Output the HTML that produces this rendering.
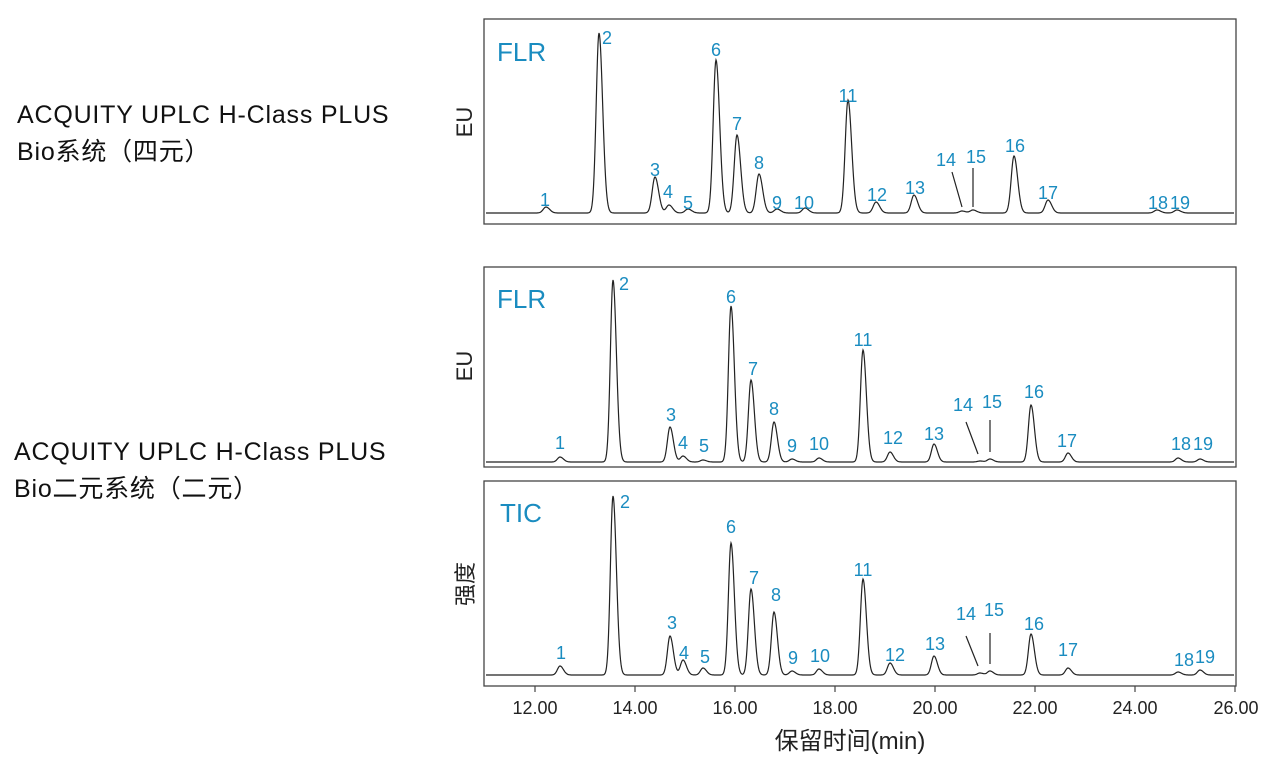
<!DOCTYPE html>
<html><head><meta charset="utf-8"><style>
body{margin:0;background:#fff;width:1280px;height:763px;overflow:hidden;font-family:"Liberation Sans","Noto Sans CJK SC",sans-serif}
.lt{position:absolute;left:17px;font-size:25px;letter-spacing:0.8px;color:#111;line-height:37px;white-space:nowrap}
</style></head><body>
<div class="lt" style="top:97px">ACQUITY UPLC H-Class PLUS<br>Bio系统（四元）</div>
<div class="lt" style="left:14px;top:434px">ACQUITY UPLC H-Class PLUS<br>Bio二元系统（二元）</div>
<svg width="1280" height="763" style="position:absolute;left:0;top:0" font-family="Liberation Sans, Noto Sans CJK SC, sans-serif">
<g fill="none" stroke="#444" stroke-width="1.3">
<rect x="484" y="19" width="752" height="205"/>
<rect x="484" y="267" width="752" height="200"/>
<rect x="484" y="481" width="752" height="205"/>
</g>
<g stroke="#222" stroke-width="1.2" fill="none">
<path id="p1"/><path id="p2"/><path id="p3"/>
<line x1="952" y1="172" x2="962" y2="207"/><line x1="973" y1="168" x2="973" y2="207"/>
<line x1="966" y1="422" x2="978" y2="454"/><line x1="990" y1="420" x2="990" y2="452"/>
<line x1="966" y1="636" x2="978" y2="666"/><line x1="990" y1="633" x2="990" y2="664"/>
</g>
<g stroke="#444" stroke-width="1.2">
<line x1="535" y1="686" x2="535" y2="692"/><line x1="635" y1="686" x2="635" y2="692"/><line x1="735" y1="686" x2="735" y2="692"/><line x1="835" y1="686" x2="835" y2="692"/><line x1="935" y1="686" x2="935" y2="692"/><line x1="1035" y1="686" x2="1035" y2="692"/><line x1="1135" y1="686" x2="1135" y2="692"/><line x1="1235" y1="686" x2="1235" y2="692"/>
</g>
<g font-size="18" fill="#222" text-anchor="middle">
<text x="535" y="714">12.00</text><text x="635" y="714">14.00</text><text x="735" y="714">16.00</text><text x="835" y="714">18.00</text><text x="935" y="714">20.00</text><text x="1035" y="714">22.00</text><text x="1135" y="714">24.00</text><text x="1236" y="714">26.00</text>
<text x="850" y="749" font-size="24">保留时间(min)</text>
</g>
<g font-size="22" fill="#222" text-anchor="middle">
<text transform="translate(472,122) rotate(-90)">EU</text>
<text transform="translate(472,366) rotate(-90)">EU</text>
<text transform="translate(473,584) rotate(-90)">强度</text>
</g>
<g fill="#1a8cc0" font-size="26">
<text x="497" y="61">FLR</text><text x="497" y="308">FLR</text><text x="500" y="522">TIC</text>
</g>
<g fill="#1a8cc0" font-size="18" text-anchor="middle">
<text x="545" y="206">1</text><text x="607" y="44">2</text><text x="655" y="176">3</text><text x="668" y="198">4</text><text x="688" y="209">5</text><text x="716" y="56">6</text><text x="737" y="130">7</text><text x="759" y="169">8</text><text x="777" y="209">9</text><text x="804" y="209">10</text><text x="848" y="102">11</text><text x="877" y="201">12</text><text x="915" y="194">13</text><text x="946" y="166">14</text><text x="976" y="163">15</text><text x="1015" y="152">16</text><text x="1048" y="199">17</text><text x="1158" y="209">18</text><text x="1180" y="209">19</text>
<text x="560" y="449">1</text><text x="624" y="290">2</text><text x="671" y="421">3</text><text x="683" y="449">4</text><text x="704" y="452">5</text><text x="731" y="303">6</text><text x="753" y="375">7</text><text x="774" y="415">8</text><text x="792" y="452">9</text><text x="819" y="450">10</text><text x="863" y="346">11</text><text x="893" y="444">12</text><text x="934" y="440">13</text><text x="963" y="411">14</text><text x="992" y="408">15</text><text x="1034" y="398">16</text><text x="1067" y="447">17</text><text x="1181" y="450">18</text><text x="1203" y="450">19</text>
<text x="561" y="659">1</text><text x="625" y="508">2</text><text x="672" y="629">3</text><text x="684" y="659">4</text><text x="705" y="663">5</text><text x="731" y="533">6</text><text x="754" y="584">7</text><text x="776" y="601">8</text><text x="793" y="664">9</text><text x="820" y="662">10</text><text x="863" y="576">11</text><text x="895" y="661">12</text><text x="935" y="650">13</text><text x="966" y="620">14</text><text x="994" y="616">15</text><text x="1034" y="630">16</text><text x="1068" y="656">17</text><text x="1184" y="666">18</text><text x="1205" y="663">19</text>
</g>
</svg>
<script>
function mk(id,base,pk,s){var d='';for(var x=486;x<=1234;x+=0.5){var y=base;for(var i=0;i<pk.length;i++){var p=pk[i],sg=p[2]||s,dx=x-p[0];if(dx>0)sg*=1.3;y-=(base-p[1])*Math.exp(-dx*dx/(2*sg*sg));}d+=(d?'L':'M')+x+','+y.toFixed(1);}document.getElementById(id).setAttribute('d',d);}
mk('p1',213,[[546,207],[599,33],[655,177],[669,205],[688,209],[716,60],[737,135],[759,174],[777,209],[805,208],[848,100],[876,202],[914,195],[962,211],[973,210],[1014,156],[1048,200],[1157,210],[1177,210]],2.8);
mk('p2',462,[[560,457],[613,280],[670,427],[683,456],[703,460],[731,306],[751,380],[774,422],[792,459],[819,458],[863,350],[890,452],[934,444],[980,461],[990,459],[1031,405],[1068,453],[1178,458],[1200,459]],2.6);
mk('p3',675,[[560,666],[613,496],[670,636],[683,660],[703,668],[731,543],[751,589],[774,612],[792,671],[819,669],[863,579],[890,663],[934,656],[980,673],[990,671],[1031,634],[1068,668],[1178,672],[1200,670]],2.6);
</script>
</body></html>
